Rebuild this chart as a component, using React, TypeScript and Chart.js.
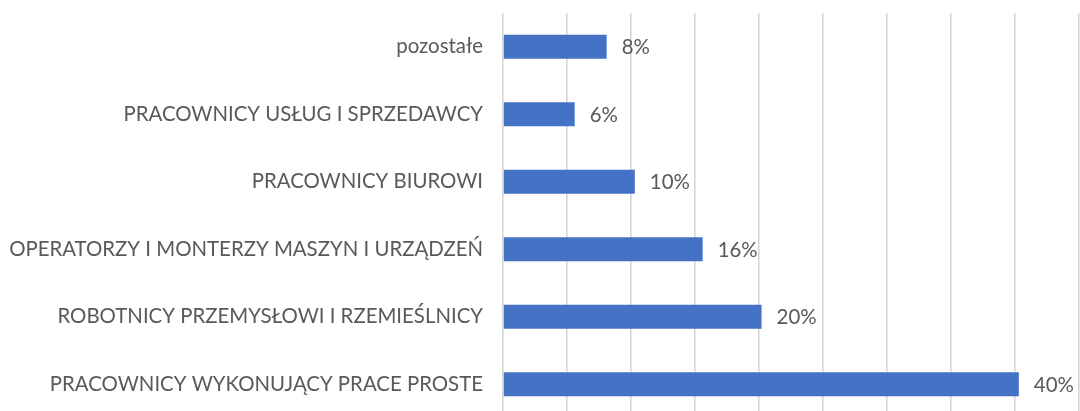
import React, { useEffect, useRef } from "react";
import { Chart, registerables } from "chart.js";

Chart.register(...registerables);

const categories = [
  "pozostałe",
  "PRACOWNICY USŁUG I SPRZEDAWCY",
  "PRACOWNICY BIUROWI",
  "OPERATORZY I MONTERZY MASZYN I URZĄDZEŃ",
  "ROBOTNICY PRZEMYSŁOWI I RZEMIEŚLNICY",
  "PRACOWNICY WYKONUJĄCY PRACE PROSTE",
];
const values = [8.1, 5.6, 10.3, 15.6, 20.2, 40.3];
const valueLabels = ["8%", "6%", "10%", "16%", "20%", "40%"];
const axisMax = 45;
const axisStep = 5;

const FONT_FAMILY = "Lato, 'Open Sans', sans-serif";
const FONT_SIZE = 20.4;
const TEXT_COLOR = "#595959";

const labelPlugin = {
  id: "barValueLabels",
  afterDatasetsDraw(chart: any) {
    const ctx = chart.ctx;
    const meta = chart.getDatasetMeta(0);
    ctx.save();
    ctx.font = `${FONT_SIZE}px ${FONT_FAMILY}`;
    ctx.fillStyle = TEXT_COLOR;
    ctx.textAlign = "left";
    ctx.textBaseline = "middle";
    meta.data.forEach((bar: any, i: number) => {
      ctx.fillText(valueLabels[i], bar.x + 15, bar.y + 1);
    });
    ctx.restore();
  },
};

export default function App() {
  const canvasRef = useRef<HTMLCanvasElement | null>(null);

  useEffect(() => {
    document.body.style.overflow = "hidden";
    const canvas = canvasRef.current;
    if (!canvas) return;
    const chart = new Chart(canvas, {
      type: "bar",
      data: {
        labels: categories,
        datasets: [
          {
            data: values,
            backgroundColor: "#4472C4",
            borderWidth: 0,
            categoryPercentage: 1,
            barPercentage: 0.355,
          },
        ],
      },
      options: {
        indexAxis: "y",
        animation: false,
        responsive: true,
        maintainAspectRatio: false,
        layout: { padding: { top: 13, right: 1, bottom: 0, left: 0 } },
        plugins: {
          legend: { display: false },
          tooltip: { enabled: false },
          title: { display: false },
        },
        scales: {
          x: {
            min: 0,
            max: axisMax,
            ticks: { display: false, stepSize: axisStep },
            grid: { color: "#d6d6d6", lineWidth: 1.6, drawTicks: false },
            border: { display: false },
            afterFit(axis: any) {
              axis.height = 0;
              axis.paddingLeft = 0;
              axis.paddingRight = 0;
            },
          },
          y: {
            grid: { display: false, drawTicks: false },
            border: { display: false },
            ticks: {
              padding: 20,
              color: TEXT_COLOR,
              font: { family: FONT_FAMILY, size: FONT_SIZE },
            },
            afterFit(axis: any) {
              axis.width = 503;
              axis.paddingTop = 0;
              axis.paddingBottom = 0;
            },
          },
        },
      },
      plugins: [labelPlugin],
    });
    return () => chart.destroy();
  }, []);

  return (
    <div style={{ position: "fixed", left: 0, top: 0, width: 1080, height: 418 }}>
      <canvas ref={canvasRef} />
    </div>
  );
}
